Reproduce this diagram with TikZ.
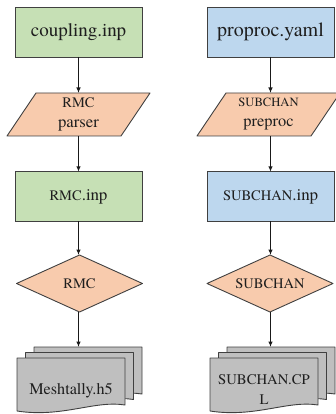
\documentclass[tikz,border=0pt]{standalone}
\usepackage{fontspec}
\newfontfamily\serifface{texgyretermes-regular.otf}
\usetikzlibrary{arrows.meta,backgrounds}
\definecolor{boxgreen}{HTML}{C6E0B5}
\definecolor{boxblue}{HTML}{BDD7EE}
\definecolor{boxorange}{HTML}{F8CBAD}
\definecolor{docgrey}{HTML}{BFBFBF}
\definecolor{edgecol}{HTML}{404040}
\definecolor{txtcol}{HTML}{1E1E1E}
\newcommand\fsz[2]{\serifface\fontsize{#1}{#2}\selectfont}
\newcommand\mydocpage[2]{%
  \begin{scope}[shift={(#1,#2)}]
    \filldraw[pagefill] (0,0) -- (108,0) -- (108,47) .. controls (78,42) and (45,60) .. (0,53) -- cycle;
  \end{scope}}
\begin{document}
\begin{tikzpicture}[x=1pt,y=-1pt,
  edgeline/.style={draw=edgecol, line width=0.9pt},
  flowbox/.style={edgeline, minimum width=127pt, minimum height=50pt, inner sep=0pt, outer sep=0pt, text=txtcol},
  holder/.style={inner sep=0pt, outer sep=0pt, align=center, text=txtcol},
  flowarrow/.style={draw=black!90, line width=1.1pt, -{Latex[length=5.5pt,width=4.5pt]}},
  pagefill/.style={fill=docgrey, edgeline, line join=round}]
\useasboundingbox (0,0) rectangle (336,414);
\clip (0,0) rectangle (336,414);

% ---- top boxes
\node[flowbox, fill=boxgreen, font=\fsz{19}{22}] (cin) at (78.5,32) {coupling.inp};
\node[flowbox, fill=boxblue, font=\fsz{20}{23}] (pin) at (270.5,32) {proproc.yaml};

% ---- parallelograms
\node[holder, minimum width=143pt, minimum height=43pt, font=\fsz{16.7}{19}] (rp) at (78.5,114.5)
  {{\fsz{14.5}{19}RMC}\\[1pt]parser};
\node[holder, minimum width=143pt, minimum height=43pt, font=\fsz{16.4}{19}] (sp) at (268.5,114.5)
  {{\fsz{12.6}{19}SUBCHAN}\\[1pt]preproc};
\begin{scope}[on background layer]
  \filldraw[edgeline, fill=boxorange, line join=round] (rp.south west) -- ([xshift=29pt]rp.north west) -- (rp.north east) -- ([xshift=-29pt]rp.south east) -- cycle;
  \filldraw[edgeline, fill=boxorange, line join=round] (sp.south west) -- ([xshift=29pt]sp.north west) -- (sp.north east) -- ([xshift=-29pt]sp.south east) -- cycle;
\end{scope}

% ---- second boxes
\node[flowbox, fill=boxgreen, minimum height=49.5pt, font=\fsz{17}{20}] (rinp) at (78.5,196.5)
  {{\fsz{14.5}{17}RMC}.inp};
\node[flowbox, fill=boxblue, minimum height=49.5pt, font=\fsz{17}{20}] (sinp) at (270.5,196.5)
  {{\fsz{14.5}{17}SUBCHAN}.inp};

% ---- diamonds
\node[holder, minimum width=126pt, minimum height=57pt, font=\fsz{14.5}{17}] (rd) at (79.5,283.5) {RMC};
\node[holder, minimum width=126pt, minimum height=57pt, font=\fsz{14.5}{17}] (sd) at (270,283.5) {SUBCHAN};
\begin{scope}[on background layer]
  \filldraw[edgeline, fill=boxorange, line join=round] (rd.west) -- (rd.north) -- (rd.east) -- (rd.south) -- cycle;
  \filldraw[edgeline, fill=boxorange, line join=round] (sd.west) -- (sd.north) -- (sd.east) -- (sd.south) -- cycle;
\end{scope}

% ---- document stacks
\mydocpage{34}{347}
\mydocpage{25.5}{352.5}
\mydocpage{17}{358}
\mydocpage{227}{347}
\mydocpage{218.5}{352.5}
\mydocpage{210}{358}
\coordinate (mback) at (88,347);
\coordinate (sback) at (281,347);
\node[holder, font=\fsz{16.2}{19}] (mesh) at (71,391) {Meshtally.h5};
\node[holder, font=\fsz{14.7}{20}] (cpl) at (264,390) {SUBCHAN.CP\\L};

% ---- arrows
\draw[flowarrow] (cin.south) -- (rp.north);
\draw[flowarrow] (rp.south) -- (rinp.north);
\draw[flowarrow] (rinp.south) -- (rinp.south |- rd.north);
\draw[flowarrow] (rd.south -| rinp.south) -- (rinp.south |- mback);
\draw[flowarrow] (pin.south) -- (pin.south |- sp.north);
\draw[flowarrow] (pin.south |- sp.south) -- (sinp.north);
\draw[flowarrow] (sinp.south) -- (sinp.south |- sd.north);
\draw[flowarrow] (sinp.south |- sd.south) -- (sinp.south |- sback);
\end{tikzpicture}
\end{document}
